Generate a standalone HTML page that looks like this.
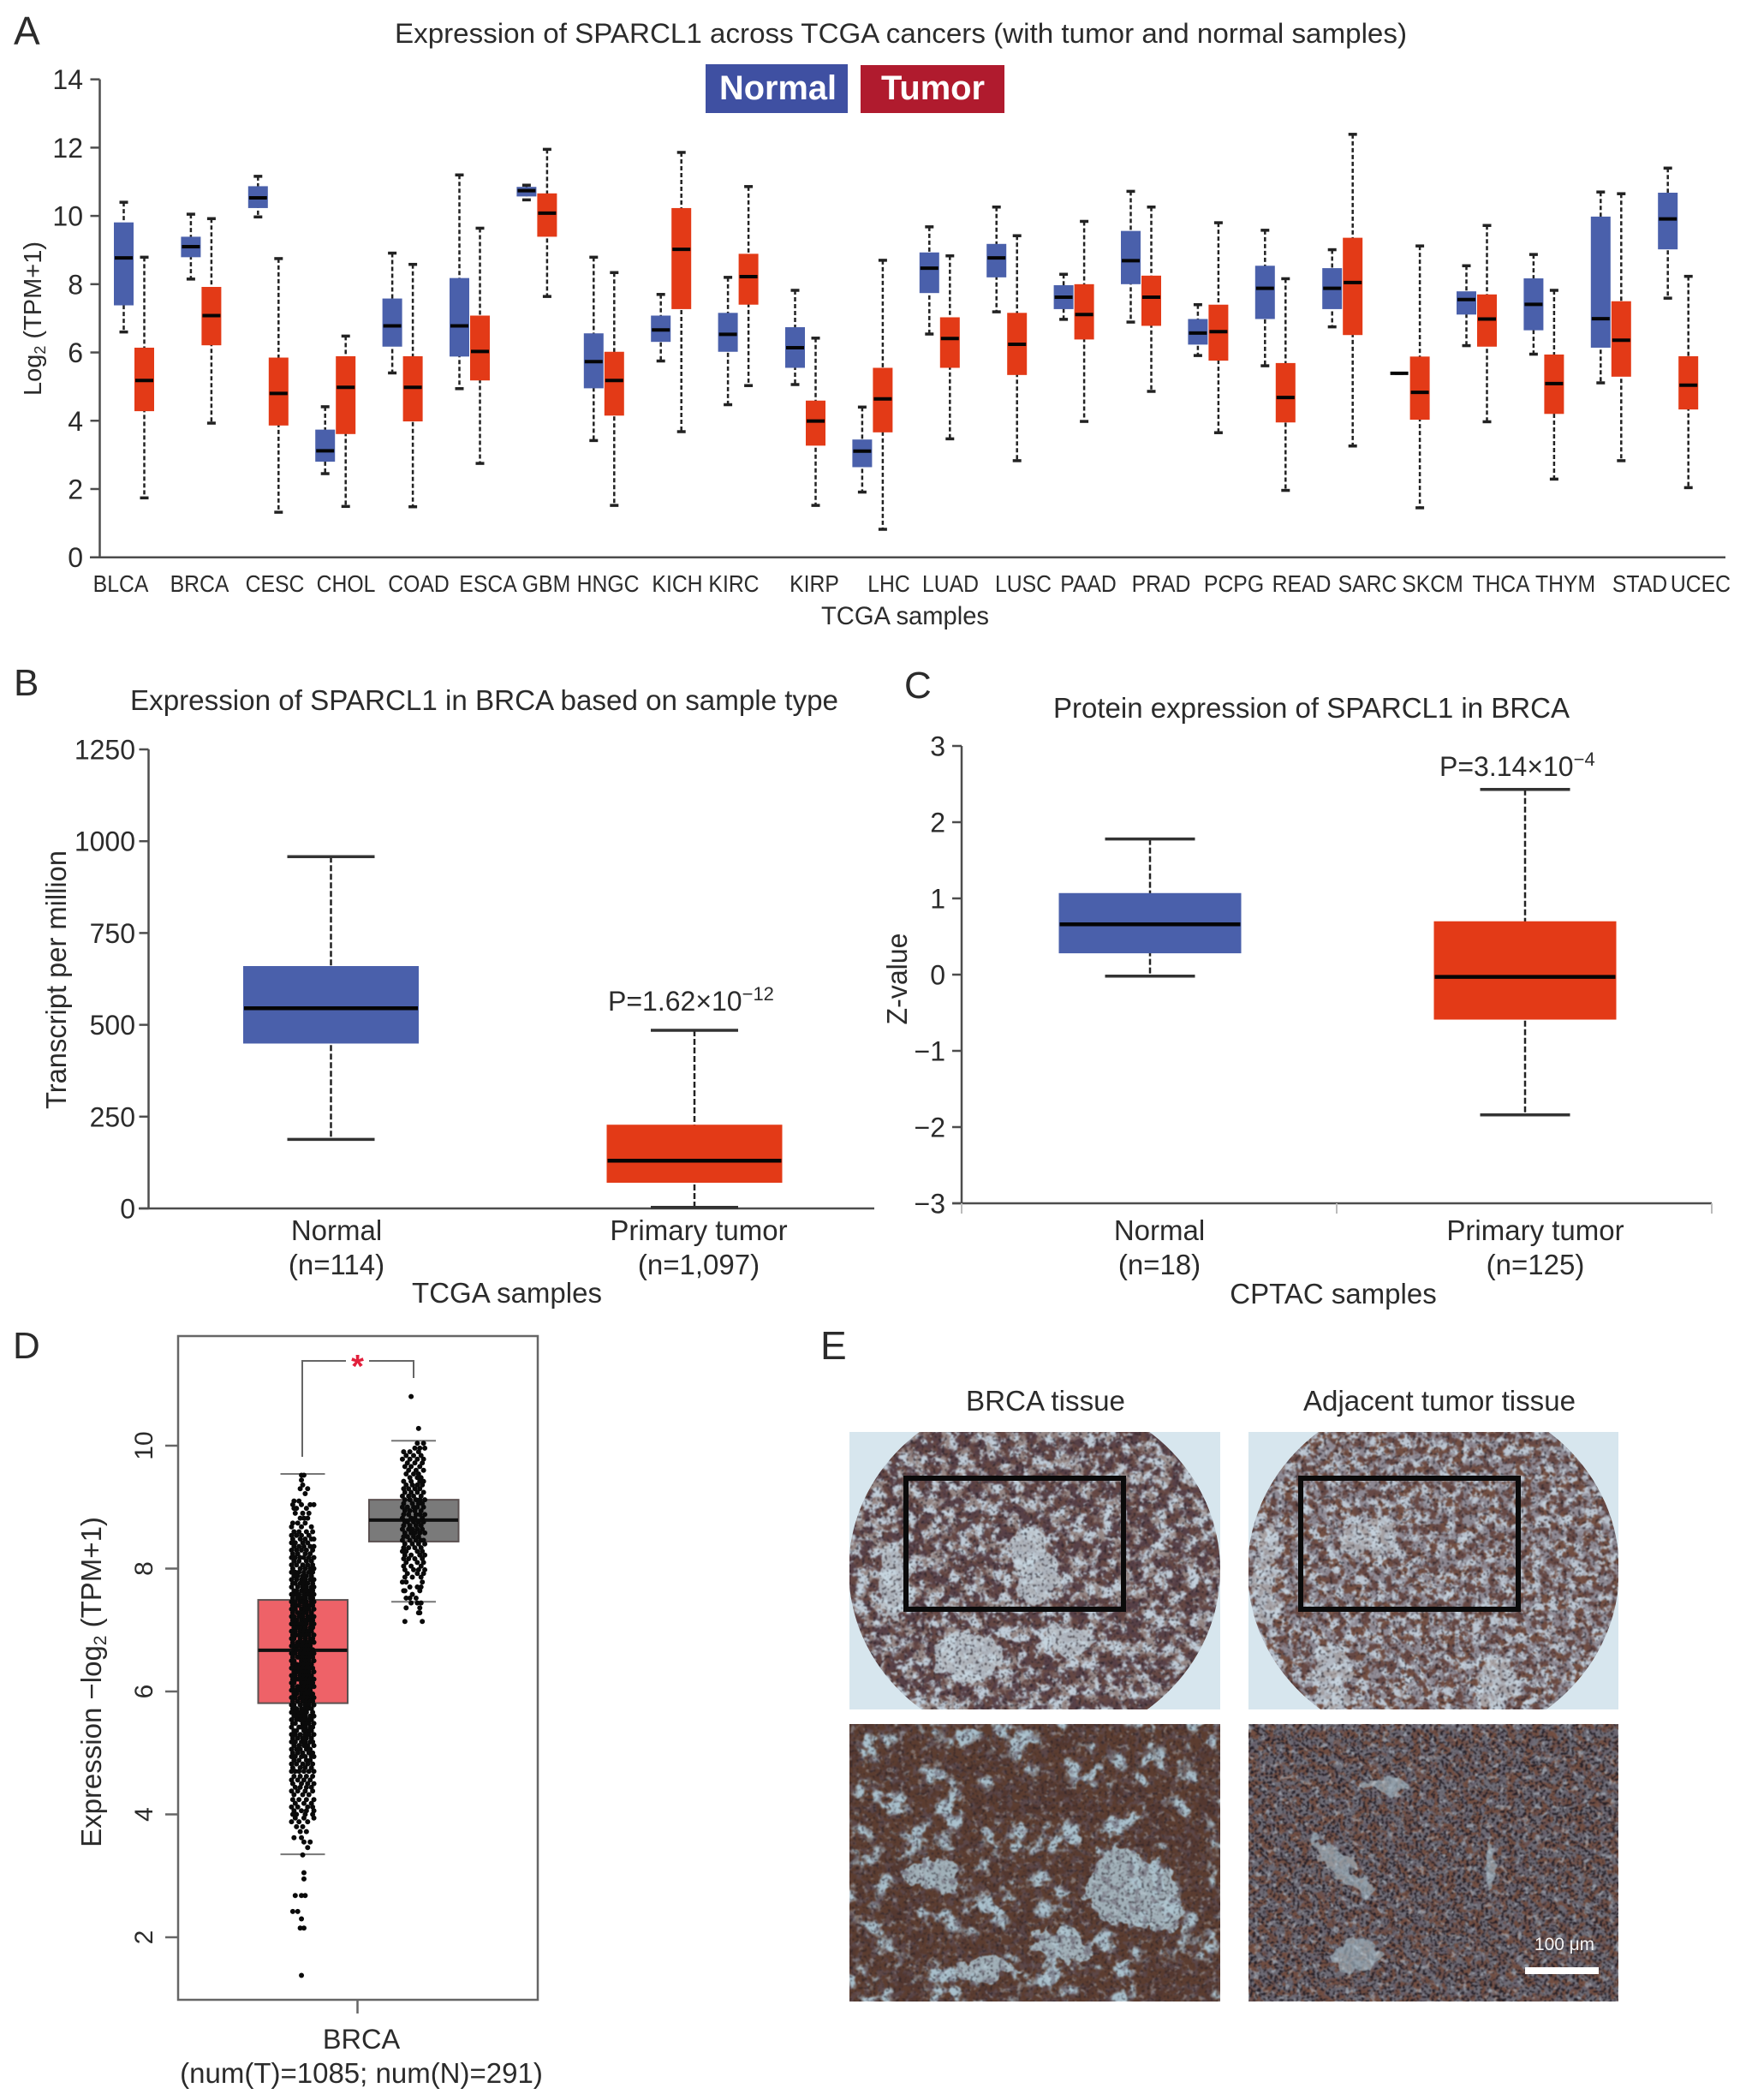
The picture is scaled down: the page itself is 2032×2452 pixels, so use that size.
<!DOCTYPE html>
<html lang="en">
<head>
<meta charset="utf-8">
<title>SPARCL1 expression figure</title>
<style>
html,body{margin:0;padding:0;background:#fff}
svg{display:block}
text{font-family:"Liberation Sans",sans-serif;fill:#2b2b2b}
</style>
</head>
<body>
<svg id="figure" xmlns="http://www.w3.org/2000/svg" width="2032" height="2452" viewBox="0 0 2032 2452">
<defs>
<filter id="soft" filterUnits="userSpaceOnUse" x="980" y="1660" width="930" height="690" color-interpolation-filters="sRGB">
<feGaussianBlur stdDeviation="0.8"/>
</filter>
<filter id="tex-brown" filterUnits="userSpaceOnUse" x="980" y="1660" width="930" height="690" color-interpolation-filters="sRGB">
<feTurbulence type="fractalNoise" baseFrequency="0.06" numOctaves="4" seed="7"/>
<feColorMatrix type="matrix" values="0 0 0 0 0.34  0 0 0 0 0.25  0 0 0 0 0.28  8 0 0 0 -3.3"/>
</filter>
<filter id="tex-brown-b" filterUnits="userSpaceOnUse" x="980" y="1660" width="930" height="690" color-interpolation-filters="sRGB">
<feTurbulence type="fractalNoise" baseFrequency="0.1" numOctaves="4" seed="23"/>
<feColorMatrix type="matrix" values="0 0 0 0 0.45  0 0 0 0 0.31  0 0 0 0 0.26  7 0 0 0 -3.1"/>
</filter>
<filter id="tex-large" filterUnits="userSpaceOnUse" x="980" y="2000" width="930" height="350" color-interpolation-filters="sRGB">
<feTurbulence type="fractalNoise" baseFrequency="0.024" numOctaves="4" seed="11"/>
<feColorMatrix type="matrix" values="0 0 0 0 0.33  0 0 0 0 0.22  0 0 0 0 0.19  9 0 0 0 -3.7"/>
</filter>
<filter id="tex-large-b" filterUnits="userSpaceOnUse" x="980" y="2000" width="930" height="350" color-interpolation-filters="sRGB">
<feTurbulence type="fractalNoise" baseFrequency="0.05" numOctaves="3" seed="31"/>
<feColorMatrix type="matrix" values="0 0 0 0 0.36  0 0 0 0 0.24  0 0 0 0 0.19  9 0 0 0 -3.8"/>
</filter>
<filter id="tex-mottle" filterUnits="userSpaceOnUse" x="980" y="2000" width="930" height="350" color-interpolation-filters="sRGB">
<feTurbulence type="fractalNoise" baseFrequency="0.12" numOctaves="3" seed="41"/>
<feColorMatrix type="matrix" values="0 0 0 0 0.38  0 0 0 0 0.33  0 0 0 0 0.38  7 0 0 0 -3.6"/>
</filter>
<filter id="tex-speck" filterUnits="userSpaceOnUse" x="980" y="1660" width="930" height="690" color-interpolation-filters="sRGB">
<feTurbulence type="fractalNoise" baseFrequency="0.3" numOctaves="2" seed="4"/>
<feColorMatrix type="matrix" values="0 0 0 0 0.13  0 0 0 0 0.11  0 0 0 0 0.14  8 0 0 0 -4.6"/>
</filter>
<filter id="tex-hole" filterUnits="userSpaceOnUse" x="980" y="1660" width="930" height="690" color-interpolation-filters="sRGB">
<feTurbulence type="fractalNoise" baseFrequency="0.14" numOctaves="3" seed="15"/>
<feColorMatrix type="matrix" values="0 0 0 0 0.80  0 0 0 0 0.86  0 0 0 0 0.90  8 0 0 0 -4.9"/>
</filter>
<filter id="rough" filterUnits="userSpaceOnUse" x="980" y="1660" width="930" height="690">
<feTurbulence type="fractalNoise" baseFrequency="0.05" numOctaves="3" seed="9" result="d"/>
<feDisplacementMap in="SourceGraphic" in2="d" scale="30" xChannelSelector="R" yChannelSelector="G"/>
</filter>
<clipPath id="clip-core-left"><ellipse cx="1208" cy="1833" rx="217" ry="205"/></clipPath>
<clipPath id="clip-core-right"><ellipse cx="1674" cy="1833" rx="217" ry="205"/></clipPath>
<clipPath id="clip-tl"><rect x="992" y="1672" width="433" height="324"/></clipPath>
<clipPath id="clip-tr"><rect x="1458" y="1672" width="432" height="324"/></clipPath>
<clipPath id="clip-bl"><rect x="992" y="2013" width="433" height="324"/></clipPath>
<clipPath id="clip-br"><rect x="1458" y="2013" width="432" height="324"/></clipPath>
</defs>

<!-- Panel A static text -->
<text x="16" y="52" font-size="46">A</text>
<text x="461" y="50" font-size="32" textLength="1182" lengthAdjust="spacingAndGlyphs">Expression of SPARCL1 across TCGA cancers (with tumor and normal samples)</text>
<g>
<rect x="824" y="75" width="166" height="57" fill="#3f50a2"/>
<text x="840" y="116" font-size="40" font-weight="bold" style="fill:#fff" textLength="137" lengthAdjust="spacingAndGlyphs">Normal</text>
<rect x="1005" y="76" width="168" height="56" fill="#b01b2e"/>
<text x="1029" y="116" font-size="40" font-weight="bold" style="fill:#fff" textLength="121" lengthAdjust="spacingAndGlyphs">Tumor</text>
</g>
<text transform="translate(48 372) rotate(-90)" text-anchor="middle" font-size="29">Log<tspan font-size="18" dy="5">2</tspan><tspan dy="-5"> (TPM+1)</tspan></text>
<g font-size="27.5" text-anchor="middle">
<text transform="translate(141 691) scale(.9 1)">BLCA</text>
<text transform="translate(233 691) scale(.9 1)">BRCA</text>
<text transform="translate(321 691) scale(.9 1)">CESC</text>
<text transform="translate(404 691) scale(.9 1)">CHOL</text>
<text transform="translate(489 691) scale(.9 1)">COAD</text>
<text transform="translate(570 691) scale(.9 1)">ESCA</text>
<text transform="translate(638 691) scale(.9 1)">GBM</text>
<text transform="translate(710 691) scale(.9 1)">HNGC</text>
<text transform="translate(791 691) scale(.9 1)">KICH</text>
<text transform="translate(857 691) scale(.9 1)">KIRC</text>
<text transform="translate(951 691) scale(.9 1)">KIRP</text>
<text transform="translate(1038 691) scale(.9 1)">LHC</text>
<text transform="translate(1110 691) scale(.9 1)">LUAD</text>
<text transform="translate(1195 691) scale(.9 1)">LUSC</text>
<text transform="translate(1271 691) scale(.9 1)">PAAD</text>
<text transform="translate(1356 691) scale(.9 1)">PRAD</text>
<text transform="translate(1441 691) scale(.9 1)">PCPG</text>
<text transform="translate(1520 691) scale(.9 1)">READ</text>
<text transform="translate(1597 691) scale(.9 1)">SARC</text>
<text transform="translate(1673 691) scale(.9 1)">SKCM</text>
<text transform="translate(1753 691) scale(.9 1)">THCA</text>
<text transform="translate(1828 691) scale(.9 1)">THYM</text>
<text transform="translate(1915 691) scale(.9 1)">STAD</text>
<text transform="translate(1986 691) scale(.9 1)">UCEC</text>
</g>
<text x="959" y="729" font-size="30" textLength="196" lengthAdjust="spacingAndGlyphs">TCGA samples</text>

<!-- Panel B static text -->
<text x="16" y="812" font-size="44">B</text>
<text x="152" y="829" font-size="33" textLength="827" lengthAdjust="spacingAndGlyphs">Expression of SPARCL1 in BRCA based on sample type</text>
<text transform="translate(77 1144) rotate(-90)" text-anchor="middle" font-size="33" textLength="302" lengthAdjust="spacingAndGlyphs">Transcript per million</text>
<text x="393" y="1448" font-size="33" text-anchor="middle">Normal</text>
<text x="393" y="1488" font-size="33" text-anchor="middle">(n=114)</text>
<text x="816" y="1448" font-size="33" text-anchor="middle">Primary tumor</text>
<text x="816" y="1488" font-size="33" text-anchor="middle">(n=1,097)</text>
<text x="592" y="1521" font-size="33" text-anchor="middle">TCGA samples</text>
<text x="710" y="1180" font-size="32">P=1.62×10<tspan font-size="22" dy="-12">−12</tspan></text>

<!-- Panel C static text -->
<text x="1056" y="815" font-size="44">C</text>
<text x="1230" y="838" font-size="33" textLength="603" lengthAdjust="spacingAndGlyphs">Protein expression of SPARCL1 in BRCA</text>
<text transform="translate(1059 1143) rotate(-90)" text-anchor="middle" font-size="33" textLength="107" lengthAdjust="spacingAndGlyphs">Z-value</text>
<text x="1354" y="1448" font-size="33" text-anchor="middle">Normal</text>
<text x="1354" y="1488" font-size="33" text-anchor="middle">(n=18)</text>
<text x="1793" y="1448" font-size="33" text-anchor="middle">Primary tumor</text>
<text x="1793" y="1488" font-size="33" text-anchor="middle">(n=125)</text>
<text x="1557" y="1522" font-size="33" text-anchor="middle">CPTAC samples</text>
<text x="1681" y="906" font-size="32">P=3.14×10<tspan font-size="22" dy="-12">−4</tspan></text>

<!-- Panel D static text -->
<text x="15" y="1586" font-size="44">D</text>
<text transform="translate(118 1964) rotate(-90)" text-anchor="middle" font-size="33">Expression −log<tspan font-size="21" dy="6">2</tspan><tspan dy="-6"> (TPM+1)</tspan></text>
<text x="422" y="2392" font-size="32.5" text-anchor="middle">BRCA</text>
<text x="422" y="2432" font-size="33" text-anchor="middle">(num(T)=1085; num(N)=291)</text>

<!-- Panel E -->
<text x="958" y="1587" font-size="46">E</text>
<text x="1128" y="1647" font-size="33" textLength="186" lengthAdjust="spacingAndGlyphs">BRCA tissue</text>
<text x="1522" y="1647" font-size="33" textLength="318" lengthAdjust="spacingAndGlyphs">Adjacent tumor tissue</text>

<g clip-path="url(#clip-tl)">
<rect x="992" y="1672" width="433" height="324" fill="#d7e6ee"/>
<g clip-path="url(#clip-core-left)">
<g filter="url(#soft)">
<rect x="992" y="1672" width="433" height="324" fill="#c0ccd8"/>
<rect x="992" y="1672" width="433" height="324" filter="url(#tex-brown)"/>
<rect x="992" y="1672" width="433" height="324" filter="url(#tex-brown-b)" opacity="0.55"/>
<g filter="url(#rough)" fill="#c9d8e2" opacity="0.75">
<path d="M1180 1800 L1215 1775 L1240 1860 L1195 1875 Z"/>
<ellipse cx="1130" cy="1935" rx="42" ry="30"/>
<ellipse cx="1045" cy="1850" rx="22" ry="40"/>
<ellipse cx="1245" cy="1915" rx="32" ry="14"/>
</g>
<rect x="992" y="1672" width="433" height="324" filter="url(#tex-hole)" opacity="0.7"/>
<rect x="992" y="1672" width="433" height="324" filter="url(#tex-speck)" opacity="0.7"/>
</g>
</g>
</g>
<rect x="1058" y="1726" width="254" height="153" fill="none" stroke="#0a0a0a" stroke-width="6"/>

<g clip-path="url(#clip-tr)">
<rect x="1458" y="1672" width="432" height="324" fill="#d7e6ee"/>
<g clip-path="url(#clip-core-right)">
<g filter="url(#soft)">
<rect x="1458" y="1672" width="432" height="324" fill="#bcc6d2"/>
<rect x="1458" y="1672" width="432" height="324" filter="url(#tex-brown-b)"/>
<rect x="1458" y="1672" width="432" height="324" filter="url(#tex-brown)" opacity="0.45"/>
<g filter="url(#rough)" fill="#cddbe5" opacity="0.6">
<ellipse cx="1600" cy="1795" rx="35" ry="22"/>
<ellipse cx="1555" cy="1960" rx="24" ry="38"/>
<ellipse cx="1745" cy="1965" rx="26" ry="30"/>
<ellipse cx="1478" cy="1840" rx="14" ry="60"/>
</g>
<rect x="1458" y="1672" width="432" height="324" filter="url(#tex-hole)" opacity="0.75"/>
<rect x="1458" y="1672" width="432" height="324" filter="url(#tex-speck)" opacity="0.7"/>
</g>
</g>
</g>
<rect x="1519" y="1726" width="254" height="153" fill="none" stroke="#0a0a0a" stroke-width="6"/>

<g clip-path="url(#clip-bl)">
<g filter="url(#soft)">
<rect x="992" y="2013" width="433" height="324" fill="#a9c0cc"/>
<rect x="992" y="2013" width="433" height="324" filter="url(#tex-large)"/>
<rect x="992" y="2013" width="433" height="324" filter="url(#tex-large-b)"/>
<g filter="url(#rough)" fill="#aec5d0" opacity="0.85">
<path d="M1300 2150 L1370 2190 L1380 2250 L1300 2250 L1260 2210 Z"/>
<ellipse cx="1090" cy="2190" rx="34" ry="18"/>
<ellipse cx="1150" cy="2300" rx="36" ry="12"/>
<ellipse cx="1240" cy="2270" rx="36" ry="16"/>
</g>
<rect x="992" y="2013" width="433" height="324" filter="url(#tex-mottle)" opacity="0.5"/>
<rect x="992" y="2013" width="433" height="324" filter="url(#tex-hole)" opacity="0.35"/>
<rect x="992" y="2013" width="433" height="324" filter="url(#tex-speck)" opacity="0.6"/>
</g>
</g>

<g clip-path="url(#clip-br)">
<g filter="url(#soft)">
<rect x="1458" y="2013" width="432" height="324" fill="#6f6d77"/>
<rect x="1458" y="2013" width="432" height="324" filter="url(#tex-brown-b)"/>
<rect x="1458" y="2013" width="432" height="324" filter="url(#tex-mottle)" opacity="0.4"/>
<rect x="1458" y="2013" width="432" height="324" filter="url(#tex-speck)"/>
<rect x="1458" y="2013" width="432" height="324" filter="url(#tex-speck)" transform="translate(5 4)"/>
<g filter="url(#rough)" fill="#a6bac6" opacity="0.65">
<path d="M1534 2140 L1570 2165 L1600 2200 L1590 2215 L1545 2180 Z"/>
<ellipse cx="1620" cy="2085" rx="26" ry="8"/>
<ellipse cx="1585" cy="2285" rx="30" ry="18"/>
<ellipse cx="1740" cy="2180" rx="8" ry="30"/>
</g>
<rect x="1458" y="2013" width="432" height="324" filter="url(#tex-hole)" opacity="0.45"/>
</g>
</g>
<text x="1792" y="2277" font-size="21" style="fill:#f2f2f2" textLength="70" lengthAdjust="spacingAndGlyphs">100 μm</text>
<rect x="1781" y="2297" width="86" height="8" fill="#ffffff"/>

<g id="chart-a"></g>
<g id="chart-b"></g>
<g id="chart-c"></g>
<g id="chart-d"></g>
</svg>

<script>
// Panel A data
const cancerTypes = ["BLCA","BRCA","CESC","CHOL","COAD","ESCA","GBM","HNGC","KICH","KIRC","KIRP","LIHC","LUAD","LUSC","PAAD","PRAD","PCPG","READ","SARC","SKCM","THCA","THYM","STAD","UCEC"];
const normalHigh =   [10.4,10.05,11.16,4.41,8.91,11.2,10.9,8.79,7.7,8.2,7.82,4.4,9.68,10.26,8.29,10.72,7.4,9.58,9.01,5.39,8.54,8.87,10.7,11.4];
const normalQ3 =     [9.81,9.39,10.87,3.74,7.58,8.18,10.85,6.56,7.08,7.16,6.74,3.45,8.93,9.18,7.97,9.56,6.98,8.54,8.47,5.39,7.79,8.17,9.98,10.68];
const normalMedian = [8.77,9.1,10.53,3.12,6.78,6.78,10.74,5.73,6.66,6.53,6.14,3.11,8.47,8.77,7.62,8.69,6.57,7.88,7.88,5.39,7.55,7.41,6.99,9.91];
const normalQ1 =     [7.38,8.79,10.23,2.8,6.17,5.88,10.57,4.95,6.31,6.02,5.55,2.64,7.74,8.2,7.27,8.0,6.23,6.98,7.27,5.39,7.11,6.65,6.14,9.02];
const normalLow =    [6.6,8.15,9.97,2.45,5.4,4.94,10.47,3.42,5.75,4.47,5.06,1.91,6.54,7.19,6.97,6.89,5.91,5.61,6.75,5.39,6.2,5.95,5.11,7.59];
const tumorHigh =    [8.79,9.92,8.75,6.48,8.58,9.64,11.95,8.34,11.86,10.86,6.42,8.7,8.83,9.42,9.84,10.26,9.8,8.16,12.39,9.12,9.72,7.82,10.65,8.23];
const tumorQ3 =      [6.14,7.92,5.85,5.89,5.89,7.08,10.66,6.02,10.23,8.89,4.59,5.55,7.03,7.16,8.0,8.25,7.4,5.69,9.36,5.88,7.7,5.94,7.5,5.89];
const tumorMedian =  [5.18,7.08,4.8,4.98,4.98,6.03,10.08,5.18,9.02,8.22,3.99,4.64,6.41,6.24,7.11,7.62,6.61,4.68,8.05,4.83,6.98,5.09,6.36,5.04];
const tumorQ1 =      [4.28,6.21,3.86,3.61,3.98,5.18,9.39,4.15,7.27,7.4,3.27,3.66,5.55,5.34,6.38,6.78,5.76,3.95,6.51,4.03,6.17,4.2,5.29,4.33];
const tumorLow =     [1.74,3.93,1.32,1.49,1.48,2.75,7.64,1.52,3.68,5.03,1.52,0.82,3.47,2.83,3.98,4.86,3.65,1.96,3.26,1.45,3.97,2.29,2.83,2.04];
const aTicks = [0,2,4,6,8,10,12,14];

// Panel B data
const bGroups = ["Normal","Primary tumor"];
const bHigh = [958,485];
const bQ3 = [660,228];
const bMedian = [545,130];
const bQ1 = [449,70];
const bLow = [188,3];
const bTicks = [0,250,500,750,1000,1250];

// Panel C data
const cGroups = ["Normal","Primary tumor"];
const cHigh = [1.78,2.43];
const cQ3 = [1.07,0.70];
const cMedian = [0.66,-0.03];
const cQ1 = [0.28,-0.59];
const cLow = [-0.02,-1.84];
const cTicks = [-3,-2,-1,0,1,2,3];

// Panel D data
const dGroups = ["Tumor","Normal"];
const dHigh = [9.54,10.08];
const dQ3 = [7.49,9.12];
const dMedian = [6.67,8.79];
const dQ1 = [5.81,8.44];
const dLow = [3.35,7.46];
const dTicks = [2,4,6,8,10];
// jittered samples: [expression value, [horizontal jitter, -10..10]]
const dTumorSamples = [
[9.52,[-1,1]],[9.44,[-1]],[9.36,[0]],[9.3,[-2,4]],[9.22,[2]],[9.1,[-7,-3]],[9.04,[-8,-1,6,9]],[8.98,[-7,-5,3]],[8.9,[-6,0,5]],[8.82,[-2,1,4]],
[8.74,[-8,-4,2]],[8.68,[-9,-1,7]],[8.6,[-7,-3,3,8]],[8.54,[-9,-5,-1,5]],[8.48,[-8,-2,2,7,9]],[8.42,[-9,-6,0,4]],[8.36,[-7,-3,1,6,9]],[8.3,[-9,-5,-1,3,8]],
[8.24,[-8,-4,2,6]],[8.18,[-9,-6,-2,1,5,9]],[8.12,[-7,-3,3,7]],[8.06,[-9,-5,0,4,8]],[8,[-8,-2,2,6,9]],[7.94,[-9,-6,-3,1,5,8]],[7.88,[-7,-4,0,3,7]],[7.82,[-9,-5,-1,2,6,9]],
[7.76,[-8,-6,-2,1,4,8]],[7.7,[-9,-4,0,3,7,9]],[7.64,[-7,-5,-1,2,5,8]],[7.58,[-9,-6,-3,1,4,7,9]],[7.52,[-8,-4,-1,2,6,8]],[7.46,[-9,-6,-2,0,3,7,9]],[7.4,[-8,-5,-3,1,4,6,8]],
[7.34,[-9,-6,-1,2,5,9]],[7.28,[-8,-4,-2,1,3,7]],[7.22,[-9,-7,-3,0,4,6,9]],[7.16,[-8,-5,-1,2,5,8]],[7.1,[-9,-6,-3,0,3,7,9]],[7.04,[-7,-4,-1,2,6,8]],[6.98,[-9,-6,-2,1,4,7]],
[6.92,[-8,-5,-3,0,3,5,9]],[6.86,[-9,-7,-2,2,6,8]],[6.8,[-8,-4,-1,1,4,7,9]],[6.74,[-9,-6,-3,0,3,6]],[6.68,[-7,-5,-1,2,5,8]],[6.62,[-9,-6,-2,1,4,7,9]],[6.56,[-8,-4,-3,0,3,6,8]],
[6.5,[-9,-7,-1,2,5,9]],[6.44,[-8,-5,-2,1,4,7]],[6.38,[-9,-6,-3,0,3,6,8]],[6.32,[-7,-4,-1,2,5,9]],[6.26,[-9,-6,-2,1,4,7]],[6.2,[-8,-5,-3,0,3,6,9]],[6.14,[-9,-7,-1,2,5,8]],
[6.08,[-8,-4,-2,1,4,7,9]],[6.02,[-9,-6,-3,0,3,6]],[5.96,[-7,-5,-1,2,5,8]],[5.9,[-9,-6,-2,1,4,7,9]],[5.84,[-8,-4,0,3,6,8]],[5.78,[-9,-7,-2,2,5,9]],[5.72,[-8,-5,-1,1,4,7]],
[5.66,[-9,-6,-3,0,3,8]],[5.6,[-7,-4,-1,2,6,9]],[5.54,[-9,-5,-2,1,4,7]],[5.48,[-8,-6,0,3,5,9]],[5.42,[-9,-3,-1,2,6,8]],[5.36,[-7,-5,1,4,7]],[5.3,[-9,-6,-2,2,5,9]],
[5.24,[-8,-4,0,3,7]],[5.18,[-9,-6,-1,2,6,8]],[5.12,[-7,-3,1,4,9]],[5.06,[-9,-5,-2,3,6]],[5,[-8,-4,0,5,8]],[4.94,[-9,-6,-1,2,7,9]],[4.88,[-7,-3,3,6]],[4.82,[-9,-5,0,4,8]],
[4.76,[-8,-2,2,7]],[4.7,[-9,-6,-3,1,5,9]],[4.62,[-7,-2,3,8]],[4.56,[-9,-4,1,6]],[4.5,[-8,-1,4,9]],[4.44,[-6,-2,3,7]],[4.38,[-9,-4,2,8]],[4.32,[-7,0,5]],[4.24,[-8,-3,3,9]],
[4.18,[-6,1,7]],[4.12,[-9,-4,4,8]],[4.06,[-7,-1,3,9]],[4,[-8,-5,2,8]],[3.94,[-6,1,9]],[3.88,[-9,-3,4]],[3.8,[-5,0]],[3.72,[-2,3]],[3.62,[-7,-1]],[3.55,[1,6]],[3.46,[4]],[3.34,[0]],
[3.05,[1]],[2.95,[1]],[2.68,[-6,-1,2]],[2.42,[-8,-4]],[2.3,[-1]],[2.15,[-2,1]],[1.38,[-1]]
];
const dNormalSamples = [
[10.8,[-2]],[10.28,[4]],[10.04,[3,8]],[9.96,[1,5,9]],[9.9,[-8,-3,4]],[9.84,[-6,0,6]],[9.78,[-9,-3,3,8]],[9.72,[-5,1,7]],[9.66,[-7,-2,5]],[9.6,[-4,2,8]],[9.54,[-6,0,4]],[9.48,[-3,3,6]],
[9.42,[-8,-2,5,8]],[9.36,[-6,-1,3,7]],[9.3,[-8,-4,1,5]],[9.24,[-7,-2,3,8]],[9.18,[-9,-4,0,6]],[9.12,[-7,-3,2,5,9]],[9.06,[-8,-1,4,7]],[9,[-9,-5,0,3,8]],[8.94,[-7,-3,1,6]],[8.88,[-8,-4,2,5,9]],
[8.82,[-9,-2,1,7]],[8.76,[-7,-5,0,4,8]],[8.7,[-8,-3,2,6]],[8.64,[-9,-4,-1,3,7]],[8.58,[-7,-2,1,5,9]],[8.52,[-8,-5,0,4]],[8.46,[-9,-3,2,6,8]],[8.4,[-7,-1,4,9]],[8.34,[-8,-4,1,6]],
[8.28,[-9,-6,3,7]],[8.22,[-7,-2,5,9]],[8.16,[-8,-4,1,7]],[8.1,[-6,3,8]],[8.04,[-8,-2,6]],[7.98,[-7,0,4,9]],[7.92,[-5,3,8]],[7.86,[-7,-1,6]],[7.78,[-9,-6,7]],[7.7,[-3,3,6]],[7.64,[-8,-7,5]],[7.58,[-1]],
[7.52,[-6,-3,2]],[7.44,[-2,3,6]],[7.36,[-6,5]],[7.28,[4,5]],[7.14,[-7,7]]
];

const SVG_NS = 'http://www.w3.org/2000/svg';
function mk(parent, tag, attrs) {
  const el = document.createElementNS(SVG_NS, tag);
  for (const k in attrs) el.setAttribute(k, attrs[k]);
  parent.appendChild(el);
  return el;
}
const BLUE = '#4a60ab', RED = '#e33a17', AXIS = '#4d4d4d';

// Draws one dashed-whisker box
function drawBox(g, cx, boxW, capW, y, s, fill, key, sizes) {
  const stem = mk(g, 'line', {x1:cx, x2:cx, y1:y(s.high), y2:y(s.low), stroke:'#222', 'stroke-width':sizes.stem, 'stroke-dasharray':sizes.dash});
  
  
  const capHi = mk(g, 'line', {x1:cx-capW/2, x2:cx+capW/2, y1:y(s.high), y2:y(s.high), stroke:sizes.capColor, 'stroke-width':sizes.cap});
  
  
  const capLo = mk(g, 'line', {x1:cx-capW/2, x2:cx+capW/2, y1:y(s.low), y2:y(s.low), stroke:sizes.capColor, 'stroke-width':sizes.cap});
  
  
  const box = mk(g, 'rect', {x:cx-boxW/2, y:y(s.q3), width:boxW, height:Math.max(0, y(s.q1)-y(s.q3)), fill:fill});
  
  
  const med = mk(g, 'line', {x1:cx-boxW/2+1, x2:cx+boxW/2-1, y1:y(s.median), y2:y(s.median), stroke:'#050505', 'stroke-width':sizes.median});
  
  
}

function drawYAxis(g, x, y, ticks, fmt, top, bottom, prefix, labelX, fontSize) {
  const axis = mk(g, 'line', {x1:x, x2:x, y1:y(top), y2:y(bottom), stroke:AXIS, 'stroke-width':2.5});
  
  
  ticks.forEach(function (t) {
    const tk = mk(g, 'line', {x1:x-11, x2:x, y1:y(t), y2:y(t), stroke:AXIS, 'stroke-width':2.5});
    
    
    const lb = mk(g, 'text', {x:labelX, y:y(t)+fontSize*0.36, 'font-size':fontSize, 'text-anchor':'end'});
    lb.textContent = fmt(t);
    
    
  });
}

// ---- Panel A ----
(function () {
  const g = document.getElementById('chart-a');
  const yA = function (v) { return 650.7 - v * 39.86; };
  const xN = function (i) { return 144.5 + i * 78.4; };
  const xT = function (i) { return xN(i) + 24; };
  drawYAxis(g, 116.5, yA, aTicks, String, 14, 0, 'panel-a', 97, 32);
  const xAxis = mk(g, 'line', {x1:105, x2:2015, y1:yA(0), y2:yA(0), stroke:AXIS, 'stroke-width':2.5});
  
  
  const sizes = {stem:2.5, dash:'5 3', cap:3.5, capColor:'#222', median:4};
  cancerTypes.forEach(function (name, i) {
    const key = name.toLowerCase();
    drawBox(g, xN(i), 23, 10, yA, {high:normalHigh[i], q3:normalQ3[i], median:normalMedian[i], q1:normalQ1[i], low:normalLow[i]}, BLUE, key + '-normal', sizes);
    drawBox(g, xT(i), 23, 10, yA, {high:tumorHigh[i], q3:tumorQ3[i], median:tumorMedian[i], q1:tumorQ1[i], low:tumorLow[i]}, RED, key + '-tumor', sizes);
  });
  // SKCM normal has a single sample: the caps collapse onto its median bar
})();

// ---- Panel B ----
(function () {
  const g = document.getElementById('chart-b');
  const yB = function (v) { return 1411 - v * 0.4288; };
  const xB = function (i) { return 386.5 + i * 424.5; };
  drawYAxis(g, 173.5, yB, bTicks, String, 1250, 0, 'panel-b', 158, 32);
  const xAxis = mk(g, 'line', {x1:162, x2:1021, y1:yB(0), y2:yB(0), stroke:AXIS, 'stroke-width':2.5});
  
  
  const sizes = {stem:2.5, dash:'7 3', cap:3.5, capColor:'#333', median:4.5};
  const fills = [BLUE, RED];
  bGroups.forEach(function (name, i) {
    drawBox(g, xB(i), 205, 102, yB, {high:bHigh[i], q3:bQ3[i], median:bMedian[i], q1:bQ1[i], low:bLow[i]}, fills[i], 'panel-b-' + name.toLowerCase().replace(' ', '-'), sizes);
  });
})();

// ---- Panel C ----
(function () {
  const g = document.getElementById('chart-c');
  const yC = function (v) { return 1138 - v * 89; };
  const xC = function (i) { return 1343 + i * 438; };
  const fmt = function (t) { return t < 0 ? '\u2212' + Math.abs(t) : String(t); };
  drawYAxis(g, 1123, yC, cTicks, fmt, 3, -3, 'panel-c', 1104, 32);
  const xAxis = mk(g, 'line', {x1:1112, x2:1999, y1:yC(-3), y2:yC(-3), stroke:AXIS, 'stroke-width':2.5});
  
  
  [0, 1, 2].forEach(function (k) {
    const tk = mk(g, 'line', {x1:1123+k*438, x2:1123+k*438, y1:yC(-3), y2:yC(-3)+12, stroke:'#bbb', 'stroke-width':2});
    
    
  });
  const sizes = {stem:2.5, dash:'7 3', cap:3.5, capColor:'#333', median:4.5};
  const fills = [BLUE, RED];
  cGroups.forEach(function (name, i) {
    drawBox(g, xC(i), 213, 105, yC, {high:cHigh[i], q3:cQ3[i], median:cMedian[i], q1:cQ1[i], low:cLow[i]}, fills[i], 'panel-c-' + name.toLowerCase().replace(' ', '-'), sizes);
  });
})();

// ---- Panel D ----
(function () {
  const g = document.getElementById('chart-d');
  const yD = function (v) { return 1688 + (10 - v) * 71.75; };
  const xD = function (i) { return 353.5 + i * 129.5; };
  const jitter = function (j) { return j * 1.45; };
  const frame = mk(g, 'rect', {x:208, y:1560, width:420, height:775, fill:'#fff', stroke:'#666', 'stroke-width':2.5});
  
  
  dTicks.forEach(function (t) {
    const tk = mk(g, 'line', {x1:193, x2:208, y1:yD(t), y2:yD(t), stroke:'#666', 'stroke-width':2.5});
    
    
    const lb = mk(g, 'text', {transform:'translate(178 ' + yD(t) + ') rotate(-90)', 'font-size':30, 'text-anchor':'middle'});
    lb.textContent = String(t);
    
    
  });
  const xTick = mk(g, 'line', {x1:417.5, x2:417.5, y1:2335, y2:2351, stroke:'#666', 'stroke-width':2.5});
  
  
  const fills = ['#ee6268', '#7a7a7a'];
  dGroups.forEach(function (name, i) {
    const cx = xD(i);
    const key = 'panel-d-' + name.toLowerCase();
    const capHi = mk(g, 'line', {x1:cx-26, x2:cx+26, y1:yD(dHigh[i]), y2:yD(dHigh[i]), stroke:'#777', 'stroke-width':2});
    
    
    const capLo = mk(g, 'line', {x1:cx-26, x2:cx+26, y1:yD(dLow[i]), y2:yD(dLow[i]), stroke:'#777', 'stroke-width':2});
    
    
    const box = mk(g, 'rect', {x:cx-52, y:yD(dQ3[i]), width:104.5, height:yD(dQ1[i])-yD(dQ3[i]), fill:fills[i], stroke:'#5b5151', 'stroke-width':2});
    
    
    const med = mk(g, 'line', {x1:cx-52, x2:cx+52, y1:yD(dMedian[i]), y2:yD(dMedian[i]), stroke:'#111', 'stroke-width':4});
    
    
  });
  [dTumorSamples, dNormalSamples].forEach(function (rows, i) {
    const cx = xD(i);
    const layer = mk(g, 'g', {fill:'#0a0a0a'});
    
    
    rows.forEach(function (row) {
      row[1].forEach(function (j) {
        const dot = mk(layer, 'circle', {cx:cx + jitter(j), cy:yD(row[0]), r:3});
        
        
      });
    });
  });
  const bracket = mk(g, 'path', {d:'M353 1701 V1589 H404 M431 1589 H483 V1609', fill:'none', stroke:'#666', 'stroke-width':2});
  
  
  const star = mk(g, 'text', {x:417.5, y:1608, 'font-size':38, 'font-weight':'bold', 'text-anchor':'middle', style:'fill:#e2203c'});
  star.textContent = '*';
  
  
})();
</script>
</body>
</html>
